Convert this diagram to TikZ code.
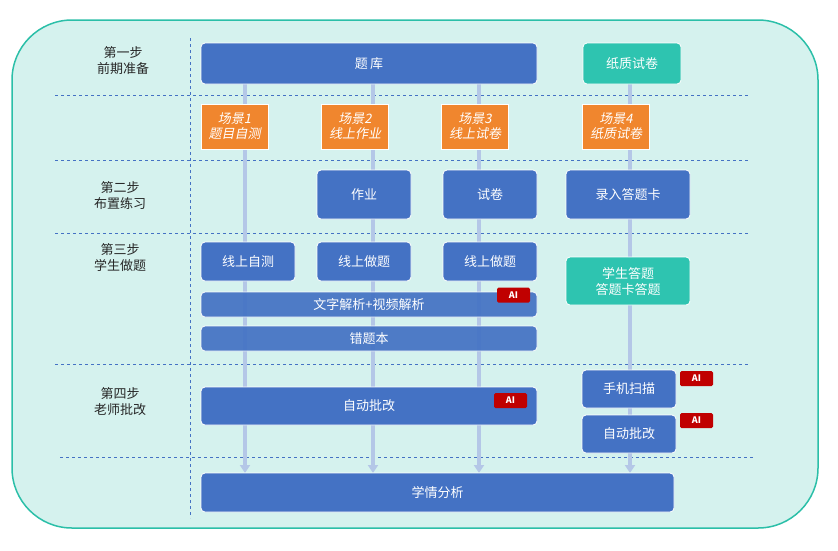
\documentclass[tikz,border=0pt]{standalone}
\usepackage{fontspec}
\setmainfont{Noto Sans CJK SC}
\newfontfamily\slantcjk[FakeSlant=0.2]{Noto Sans CJK SC}
\usetikzlibrary{arrows.meta}
\definecolor{bl}{HTML}{4472C4}
\definecolor{tl}{HTML}{2EC4B0}
\definecolor{org}{HTML}{F0862E}
\definecolor{lb}{HTML}{B4C7E7}
\definecolor{bg}{HTML}{D5F2EE}
\definecolor{bd}{HTML}{2BBFA8}
\definecolor{ai}{HTML}{C00000}
\begin{document}
\begin{tikzpicture}[x=1pt,y=-1pt,font=\fontsize{13}{16}\selectfont,
 box/.style={draw=white,line width=0.8pt,rounded corners=4pt,text=white,align=center,inner sep=0pt},
 bb/.style={box,fill=bl},
 tb/.style={box,fill=tl},
 ob/.style={draw=white,line width=1pt,fill=org,text=white,align=center,font=\fontsize{13}{15}\slantcjk,inner sep=0pt},
 aib/.style={fill=ai,text=white,rounded corners=1.5pt,font=\fontsize{9}{10}\selectfont\bfseries,inner sep=0pt,minimum width=33pt,minimum height=15pt},
 dl/.style={draw=bl,dashed,line width=0.5pt},
 vl/.style={draw=lb,line width=3.5pt,-{Triangle[length=8pt,width=10pt]}},
 st/.style={align=center,text=black!85}]
\useasboundingbox (0,0) rectangle (838,550);
\draw[fill=bg,draw=bd,line width=1.5pt,rounded corners=60pt] (12,20) rectangle (818,528);
\draw[dl] (190,38) -- (190,518);
\foreach \y/\a/\b in {95/55/748,160/55/748,233/55/748,364/55/748,457/60/755}
 \draw[dl] (\a,\y) -- (\b,\y);
\node[st] (s1) at (123,61) {第一步\\前期准备};
\node[st] (s2) at (120,196) {第二步\\布置练习};
\node[st] (s3) at (120,258) {第三步\\学生做题};
\node[st] (s4) at (120,402) {第四步\\老师批改};
\coordinate (e1) at (245,473);\coordinate (e2) at (373,473);\coordinate (e3) at (479,473);\coordinate (e4) at (630,473);
\coordinate (t1) at (245,84);\coordinate (t2) at (373,84);\coordinate (t3) at (479,84);\coordinate (t4) at (630,84);
\foreach \i in {1,2,3,4} \draw[vl] (t\i) -- (e\i);
\node[bb,minimum width=336pt,minimum height=41pt] (tk) at (369,63.5) {题\,库};
\node[tb,minimum width=98pt,minimum height=41pt] (zz) at (632,63.5) {纸质试卷};
\node[ob,minimum width=67pt,minimum height=45pt] (c1) at (234.5,126.5) {场景1\\题目自测};
\node[ob,minimum width=67pt,minimum height=45pt] (c2) at (355,126.5) {场景2\\线上作业};
\node[ob,minimum width=67pt,minimum height=45pt] (c3) at (475,126.5) {场景3\\线上试卷};
\node[ob,minimum width=67pt,minimum height=45pt] (c4) at (616,126.5) {场景4\\纸质试卷};
\node[bb,minimum width=94pt,minimum height=49pt] (zy) at (364,194.5) {作业};
\node[bb,minimum width=94pt,minimum height=49pt] (sj) at (490,194.5) {试卷};
\node[bb,minimum width=124pt,minimum height=49pt] (lr) at (628,194.5) {录入答题卡};
\node[bb,minimum width=94pt,minimum height=39pt] (x1) at (248,261.5) {线上自测};
\node[bb,minimum width=94pt,minimum height=39pt] (x2) at (364,261.5) {线上做题};
\node[bb,minimum width=94pt,minimum height=39pt] (x3) at (490,261.5) {线上做题};
\node[tb,minimum width=124pt,minimum height=48pt] (xs) at (628,281) {学生答题\\答题卡答题};
\node[bb,minimum width=336pt,minimum height=25pt,opacity=0.93,text opacity=1] (wz) at (369,304.5) {文字解析+视频解析};
\node[aib] (a1) at (513.5,295) {AI};
\node[bb,minimum width=336pt,minimum height=25pt,opacity=0.93,text opacity=1] (ct) at (369,338.5) {错题本};
\node[bb,minimum width=336pt,minimum height=38pt] (zd) at (369,406) {自动批改};
\node[aib] (a2) at (510.5,400.5) {AI};
\node[bb,minimum width=94pt,minimum height=38pt] (sm) at (629,389) {手机扫描};
\node[aib] (a3) at (696.5,378.5) {AI};
\node[bb,minimum width=94pt,minimum height=38pt] (zd2) at (629,434) {自动批改};
\node[aib] (a4) at (696.5,420.5) {AI};
\node[bb,minimum width=473pt,minimum height=39pt] (xq) at (437.5,492.5) {学情分析};
\end{tikzpicture}
\end{document}
